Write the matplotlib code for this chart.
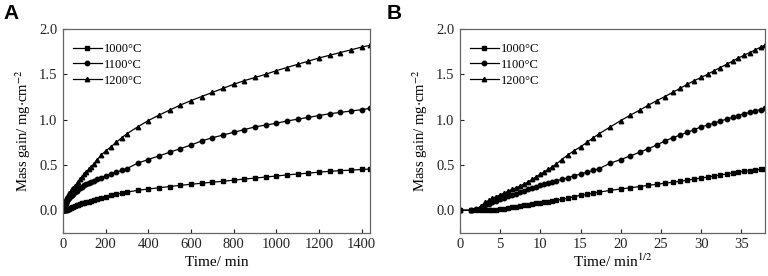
import numpy as np
import matplotlib
matplotlib.use('Agg')
import matplotlib.pyplot as plt

# oxidation time (min)
time_min = [0, 2, 4, 7, 10, 13, 16, 20, 25, 30, 36, 42, 49, 56, 64, 72, 81, 90,
            100, 110, 121, 132, 144, 160, 180, 200, 225, 250, 275, 300,
            350, 400, 450, 500, 550, 600, 650, 700, 750, 800, 850, 900, 950,
            1000, 1050, 1100, 1150, 1200, 1250, 1300, 1350, 1400, 1440]

# mass gain (mg/cm2)
gain_1000 = [0, 0, 0, 0, 0, 0.002, 0.005, 0.008, 0.012, 0.017, 0.024, 0.031, 0.039,
             0.046, 0.054, 0.061, 0.068, 0.075, 0.082, 0.089, 0.096, 0.103, 0.11,
             0.12, 0.135, 0.15, 0.165, 0.175, 0.19, 0.20,
             0.22, 0.235, 0.248, 0.262, 0.275, 0.287, 0.298, 0.31, 0.32, 0.332,
             0.345, 0.355, 0.367, 0.378, 0.39, 0.40, 0.41, 0.42, 0.43, 0.437,
             0.443, 0.45, 0.455]
gain_1100 = [0, 0.0, 0.01, 0.03, 0.055, 0.072, 0.088, 0.105, 0.122, 0.138, 0.155,
             0.17, 0.185, 0.2, 0.215, 0.23, 0.243, 0.258, 0.275, 0.288, 0.3, 0.312,
             0.325, 0.34, 0.36, 0.38, 0.40, 0.42, 0.44, 0.46,
             0.52, 0.56, 0.60, 0.64, 0.68, 0.72, 0.765, 0.80, 0.83, 0.86, 0.89,
             0.92, 0.94, 0.96, 0.985, 1.005, 1.025, 1.045, 1.065, 1.08, 1.095,
             1.11, 1.125]
gain_1200 = [0, 0.0, 0.01, 0.05, 0.09, 0.11, 0.13, 0.15, 0.17, 0.19, 0.21, 0.23,
             0.25, 0.27, 0.29, 0.315, 0.34, 0.37, 0.40, 0.425, 0.45, 0.48, 0.51,
             0.56, 0.61, 0.655, 0.70, 0.75, 0.80, 0.845,
             0.92, 0.99, 1.05, 1.105, 1.16, 1.21, 1.255, 1.30, 1.345, 1.39, 1.43,
             1.465, 1.50, 1.54, 1.575, 1.61, 1.645, 1.68, 1.71, 1.74, 1.77, 1.80,
             1.82]

labels = ['1000\u00b0C', '1100\u00b0C', '1200\u00b0C']
markers = ['s', 'o', '^']
series = [gain_1000, gain_1100, gain_1200]

plt.rcParams['font.family'] = ['Liberation Serif', 'DejaVu Serif']
plt.rcParams['mathtext.fontset'] = 'stix'

fig = plt.figure(figsize=(7.68, 2.76), dpi=100)
ax_a = fig.add_axes([0.082, 0.156, 0.400, 0.739])
ax_b = fig.add_axes([0.599, 0.156, 0.397, 0.739])

t = np.array(time_min, dtype=float)
for ax, x, xlim, xticks, xlabel, lpad in [
        (ax_a, t, 1440, np.arange(0, 1401, 200), 'Time/ min', 3),
        (ax_b, np.sqrt(t), np.sqrt(1440), np.arange(0, 36, 5), 'Time/ min$^{1/2}$', 1)]:
    for y, m, lab in zip(series, markers, labels):
        ax.plot(x, y, color='black', lw=0.9, marker=m, ms=3.2, label=lab)
    ax.set_xlim(0, xlim)
    ax.set_ylim(-0.25, 2.0)
    ax.set_xticks(xticks)
    ax.set_yticks([0.0, 0.5, 1.0, 1.5, 2.0])
    ax.set_yticklabels(['0.0', '0.5', '1.0', '1.5', '2.0'])
    ax.tick_params(direction='in', length=3, width=0.8, labelsize=10.5, pad=4,
                   colors='#222222')
    for s in ax.spines.values():
        s.set_color('#666666')
        s.set_linewidth(0.9)
    ax.set_xlabel(xlabel, fontsize=11, labelpad=lpad)
    ax.set_ylabel('Mass gain/ mg$\\cdot$cm$^{-2}$', fontsize=10.5, labelpad=4)
    ax.legend(loc='upper left', frameon=False, fontsize=9, handlelength=2.3,
              handletextpad=0.2, labelspacing=0.3, borderaxespad=0.4,
              bbox_to_anchor=(0.0, 0.98))

fig.text(0.004, 0.985, 'A', fontsize=15, fontweight='bold', family='Liberation Sans',
         va='top', ha='left')
fig.text(0.504, 0.985, 'B', fontsize=15, fontweight='bold', family='Liberation Sans',
         va='top', ha='left')

fig.savefig('out.png', dpi=100)
